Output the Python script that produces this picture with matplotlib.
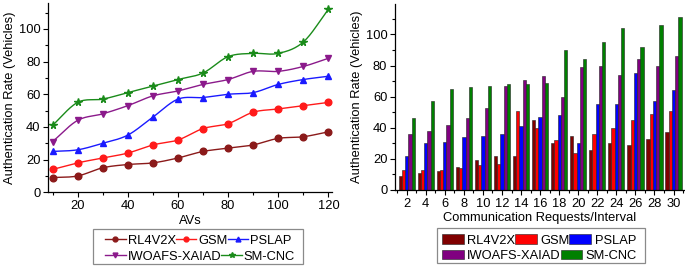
import numpy as np
import matplotlib
matplotlib.use("Agg")
import matplotlib.pyplot as plt
from matplotlib.ticker import MultipleLocator
from matplotlib.patches import Rectangle

plt.rcParams['font.family'] = ['Liberation Sans', 'DejaVu Sans']

# ---------------- data ----------------
avs = [10, 20, 30, 40, 50, 60, 70, 80, 90, 100, 110, 120]
line_rl4v2x = [9, 10, 15, 17, 18, 21, 25, 27, 29, 33, 34, 37]
line_gsm = [14, 18, 21, 24, 29, 32, 39, 42, 49, 51, 53, 55]
line_pslap = [25, 26, 30, 35, 46, 57, 58, 60, 61, 66, 69, 71]
line_iwoafs = [31, 44, 48, 53, 59, 62, 66, 69, 74, 74, 77, 82]
line_smcnc = [41, 55, 57, 61, 65, 69, 73, 83, 85, 85, 92, 112]

requests = [2, 4, 6, 8, 10, 12, 14, 16, 18, 20, 22, 24, 26, 28, 30]
bar_rl4v2x = [9, 11, 12, 15, 19, 22, 22, 45, 30, 35, 26, 30, 29, 33, 37]
bar_gsm = [13, 13, 13, 14, 16, 17, 51, 40, 32, 24, 36, 40, 45, 49, 51]
bar_pslap = [22, 30, 31, 34, 35, 36, 41, 47, 48, 30, 55, 55, 75, 57, 64]
bar_iwoafs = [36, 38, 42, 46, 53, 67, 71, 73, 60, 79, 80, 74, 84, 80, 86]
bar_smcnc = [46, 57, 65, 66, 67, 68, 68, 69, 90, 84, 95, 104, 92, 106, 111]

names = ["RL4V2X", "GSM", "PSLAP", "IWOAFS-XAIAD", "SM-CNC"]
line_colors = ["#8B1A1A", "#FF1A1A", "#1A1AFF", "#8B1A8B", "#1A8B1A"]
bar_colors = ["#800000", "#FF0000", "#0000FF", "#800080", "#008000"]
markers = ["o", "o", "^", "v", "*"]


def catmull_rom(x, y, n=24):
    x = np.asarray(x, float)
    y = np.asarray(y, float)
    px = np.concatenate([[2 * x[0] - x[1]], x, [2 * x[-1] - x[-2]]])
    py = np.concatenate([[2 * y[0] - y[1]], y, [2 * y[-1] - y[-2]]])
    xs, ys = [], []
    t = np.linspace(0, 1, n, endpoint=False)
    for i in range(1, len(px) - 2):
        for p, out in ((px, xs), (py, ys)):
            p0, p1, p2, p3 = p[i - 1], p[i], p[i + 1], p[i + 2]
            out.append(0.5 * ((2 * p1) + (-p0 + p2) * t +
                              (2 * p0 - 5 * p1 + 4 * p2 - p3) * t ** 2 +
                              (-p0 + 3 * p1 - 3 * p2 + p3) * t ** 3))
    xs.append([x[-1]])
    ys.append([y[-1]])
    return np.concatenate(xs), np.concatenate(ys)


W, H = 685, 267
fig = plt.figure(figsize=(W / 100, H / 100), dpi=100)
FS = 9.3


def fx(px):
    return px / W


def fy(py):
    return 1 - py / H


def two_row_legend(handles, labels, x_left, y_row1, y_row2, frame, **kw):
    common = dict(loc='center left', frameon=False, fontsize=FS,
                  borderpad=0, borderaxespad=0, columnspacing=0.0,
                  bbox_transform=fig.transFigure)
    common.update(kw)
    l1 = fig.legend(handles[:3], labels[:3], ncol=3,
                    bbox_to_anchor=(fx(x_left), fy(y_row1)), **common)
    l2 = fig.legend(handles[3:], labels[3:], ncol=2,
                    bbox_to_anchor=(fx(x_left), fy(y_row2)), **common)
    x0, y0, x1, y1 = frame
    fig.add_artist(Rectangle((fx(x0), fy(y1)), fx(x1) - fx(x0), fy(y0) - fy(y1),
                             transform=fig.transFigure, fill=False,
                             edgecolor='#8a8a8a', linewidth=0.9))
    return l1, l2


# ---------------- left: line chart ----------------
ax1 = fig.add_axes([fx(48.3), fy(192.3), fx(331.7) - fx(48.3), fy(2.7) - fy(192.3)])
series = [line_rl4v2x, line_gsm, line_pslap, line_iwoafs, line_smcnc]
handles = []
for s, c, m, nm in zip(series, line_colors, markers, names):
    ms = 5.5 if m == '*' else 4.8
    sx, sy = catmull_rom(avs, s)
    ax1.plot(sx, sy, color=c, lw=1.0)
    ax1.plot(avs, s, linestyle='none', marker=m, color=c, markersize=ms)
    h, = ax1.plot([], [], color=c, lw=1.0, marker=m,
                  markersize=4.2 if m == '*' else 3.5, label=nm)
    handles.append(h)
ax1.set_xlim(8.3, 121.3)
ax1.set_ylim(0, 116)
ax1.xaxis.set_major_locator(MultipleLocator(20))
ax1.xaxis.set_minor_locator(MultipleLocator(10))
ax1.yaxis.set_major_locator(MultipleLocator(20))
ax1.yaxis.set_minor_locator(MultipleLocator(10))
ax1.set_xlabel("AVs", fontsize=FS, labelpad=2)
ax1.set_ylabel("Authentication Rate (Vehicles)", fontsize=FS, labelpad=2)
two_row_legend(handles, names, 105, 241, 256.7, (93.3, 229, 303, 264.3),
               handlelength=1.6, handletextpad=0.15)

# ---------------- right: bar chart ----------------
ax2 = fig.add_axes([fx(395), fy(190), fx(684) - fx(395), fy(4) - fy(190)])
bars = [bar_rl4v2x, bar_gsm, bar_pslap, bar_iwoafs, bar_smcnc]
x = np.asarray(requests, float)
w = 0.34
bh = []
for i, (b, c, nm) in enumerate(zip(bars, bar_colors, names)):
    r = ax2.bar(x + (i - 2) * w, b, width=w, color=c, edgecolor='#222222',
                linewidth=0.4, label=nm)
    bh.append(r)
ax2.set_xlim(0.77, 31.1)
ax2.set_ylim(0, 119.6)
ax2.xaxis.set_major_locator(MultipleLocator(2))
ax2.xaxis.set_minor_locator(MultipleLocator(1))
ax2.yaxis.set_major_locator(MultipleLocator(20))
ax2.yaxis.set_minor_locator(MultipleLocator(10))
ax2.set_xlabel("Communication Requests/Interval", fontsize=FS, labelpad=2)
ax2.set_ylabel("Authentication Rate (Vehicles)", fontsize=FS, labelpad=2)
two_row_legend(bh, names, 441.7, 240.5, 256, (437.3, 228.3, 645, 263.3),
               handlelength=1.7, handleheight=0.7, handletextpad=0.25)

for ax in (ax1, ax2):
    for sp in ('top', 'right'):
        ax.spines[sp].set_visible(False)
    for sp in ('left', 'bottom'):
        ax.spines[sp].set_linewidth(0.9)
    ax.tick_params(which='both', direction='out', labelsize=FS, width=0.8)
    ax.tick_params(which='major', length=3.5, pad=2)
    ax.tick_params(which='minor', length=2)

fig.savefig("out.png", dpi=100)
